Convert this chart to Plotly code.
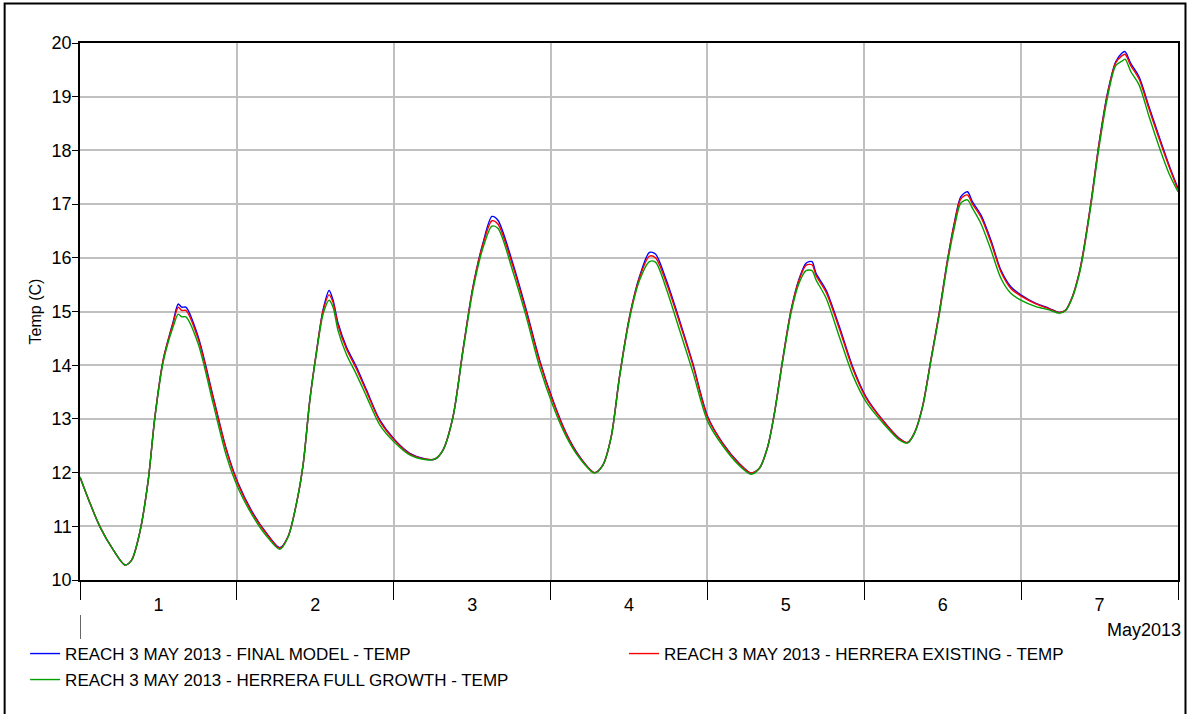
import plotly.graph_objects as go

# Hours since 1 May 2013 00:00
hours = [0, 1.53, 3.06, 5.09, 6.88, 7.90, 9.17, 10.44, 11.46, 12.73,
         14.26, 15.03, 15.55, 16.20, 18.08, 20.38, 22.43, 24.20, 26.49, 28.54,
         30.57, 31.84, 33.13, 34.14, 35.16, 36.18, 37.19, 38.11, 38.72, 39.49,
         40.77, 42.29, 43.83, 45.86, 48.15, 50.45, 53.0, 54.27, 55.54, 57.07,
         58.59, 60.12, 61.65, 63.03, 63.94, 66.24, 68.28, 70.32, 72.35, 74.40,
         76.43, 78.73, 80.0, 81.28, 82.55, 84.08, 85.61, 87.13, 88.05, 89.69,
         91.72, 93.75, 96.05, 98.34, 100.89, 102.68, 103.95, 105.22, 106.24, 107.51,
         108.80, 110.06, 111.09, 112.0, 112.62, 114.15, 116.18, 118.22, 120.26, 122.80,
         125.35, 126.62, 127.64, 128.91, 130.19, 131.46, 132.73, 133.76, 134.78, 135.79,
         136.56, 137.84, 139.37, 140.90, 142.42, 143.95, 146.25, 148.28, 149.81, 150.83,
         151.85, 152.87, 153.38, 154.66, 155.92, 157.20, 158.47, 159.39, 159.90, 160.77,
         162.04, 163.57, 165.10, 166.62, 168.0]

final_model = [11.92, 11.43, 10.99, 10.56, 10.28, 10.37, 10.90, 11.86, 13.04, 14.10,
               14.81, 15.14, 15.08, 15.08, 14.53, 13.41, 12.42, 11.80, 11.24, 10.87,
               10.60, 10.81, 11.43, 12.15, 13.35, 14.25, 15.03, 15.39, 15.21, 14.78,
               14.34, 13.97, 13.54, 12.98, 12.61, 12.36, 12.25, 12.25, 12.42, 13.04,
               14.28, 15.46, 16.27, 16.77, 16.70, 15.89, 15.03, 14.10, 13.35, 12.73,
               12.30, 12.00, 12.14, 12.67, 13.79, 14.90, 15.65, 16.10, 16.07, 15.59,
               14.84, 14.04, 13.04, 12.55, 12.17, 11.99, 12.08, 12.48, 13.10, 14.10,
               15.03, 15.62, 15.90, 15.93, 15.71, 15.40, 14.72, 13.97, 13.41, 12.98,
               12.64, 12.56, 12.73, 13.23, 14.10, 14.97, 15.96, 16.64, 17.14, 17.23,
               17.04, 16.80, 16.33, 15.77, 15.46, 15.31, 15.15, 15.06, 14.98, 15.03,
               15.28, 15.71, 16.02, 17.01, 18.13, 19.06, 19.65, 19.81, 19.84, 19.62,
               19.37, 18.81, 18.26, 17.73, 17.29]

herrera_existing = [11.92, 11.43, 10.99, 10.56, 10.28, 10.37, 10.90, 11.86, 13.04, 14.10,
                    14.79, 15.08, 15.02, 15.02, 14.49, 13.38, 12.40, 11.78, 11.22, 10.86,
                    10.59, 10.81, 11.43, 12.15, 13.35, 14.25, 15.01, 15.31, 15.17, 14.74,
                    14.30, 13.93, 13.51, 12.96, 12.60, 12.35, 12.25, 12.25, 12.42, 13.04,
                    14.28, 15.45, 16.25, 16.69, 16.63, 15.84, 14.99, 14.07, 13.33, 12.72,
                    12.29, 12.00, 12.14, 12.67, 13.79, 14.90, 15.63, 16.03, 16.00, 15.54,
                    14.80, 14.01, 13.02, 12.54, 12.16, 11.99, 12.08, 12.48, 13.10, 14.10,
                    15.02, 15.60, 15.86, 15.87, 15.67, 15.36, 14.68, 13.94, 13.39, 12.97,
                    12.63, 12.56, 12.73, 13.23, 14.10, 14.97, 15.95, 16.62, 17.10, 17.17,
                    17.00, 16.76, 16.29, 15.74, 15.43, 15.29, 15.14, 15.05, 14.98, 15.03,
                    15.28, 15.71, 16.02, 17.01, 18.12, 19.04, 19.63, 19.76, 19.79, 19.58,
                    19.33, 18.77, 18.22, 17.70, 17.27]

herrera_full_growth = [11.92, 11.43, 10.99, 10.56, 10.28, 10.37, 10.90, 11.86, 13.02, 14.06,
                       14.72, 14.95, 14.90, 14.90, 14.40, 13.28, 12.30, 11.71, 11.18, 10.82,
                       10.57, 10.80, 11.43, 12.15, 13.33, 14.22, 14.95, 15.21, 15.08, 14.64,
                       14.20, 13.83, 13.42, 12.89, 12.56, 12.33, 12.24, 12.25, 12.42, 13.03,
                       14.25, 15.40, 16.18, 16.59, 16.55, 15.74, 14.90, 13.97, 13.25, 12.67,
                       12.27, 11.99, 12.14, 12.66, 13.77, 14.86, 15.58, 15.93, 15.92, 15.43,
                       14.66, 13.88, 12.95, 12.50, 12.13, 11.97, 12.08, 12.48, 13.09, 14.07,
                       14.98, 15.54, 15.76, 15.76, 15.59, 15.25, 14.53, 13.82, 13.32, 12.93,
                       12.61, 12.55, 12.72, 13.21, 14.07, 14.93, 15.90, 16.55, 17.02, 17.08,
                       16.92, 16.64, 16.15, 15.62, 15.34, 15.21, 15.09, 15.03, 14.97, 15.02,
                       15.26, 15.68, 15.98, 16.96, 18.06, 18.98, 19.58, 19.66, 19.70, 19.47,
                       19.22, 18.63, 18.07, 17.57, 17.23]

names = ["REACH 3 MAY 2013 - FINAL MODEL - TEMP",
         "REACH 3 MAY 2013 - HERRERA EXISTING - TEMP",
         "REACH 3 MAY 2013 - HERRERA FULL GROWTH - TEMP"]
colors = ["#0000ff", "#ff0000", "#00a000"]
legends = ["legend", "legend2", "legend3"]

day_label_pos = [12, 36, 60, 84, 108, 132, 156]
day_labels = ["1", "2", "3", "4", "5", "6", "7"]

FONT = "Arial, Liberation Sans, sans-serif"

fig = go.Figure()
for ys, nm, c, lg in zip([final_model, herrera_existing, herrera_full_growth], names, colors, legends):
    fig.add_trace(go.Scatter(x=hours, y=ys, mode="lines", name=nm, legend=lg, showlegend=True,
                             line=dict(color=c, width=1.4, shape="spline", smoothing=0.8)))

W, H = 1191, 714
L, R, T, B = 80, 11, 43, 134
pw, ph = W - L - R, H - T - B

def px_x(p):
    return (p - L) / pw

def px_y(p):
    return (H - B - p) / ph

legfont = dict(family=FONT, size=17, color="black")
fig.update_layout(
    width=W, height=H,
    margin=dict(l=L, r=R, t=T, b=B),
    paper_bgcolor="white", plot_bgcolor="white",
    font=dict(family=FONT, color="black"),
    showlegend=True,
    legend=dict(x=px_x(25), y=px_y(654), xanchor="left", yanchor="middle",
                font=legfont, bgcolor="rgba(0,0,0,0)", itemwidth=30, visible=True),
    legend2=dict(x=px_x(625), y=px_y(654), xanchor="left", yanchor="middle",
                 font=legfont, bgcolor="rgba(0,0,0,0)", itemwidth=30),
    legend3=dict(x=px_x(25), y=px_y(680), xanchor="left", yanchor="middle",
                 font=legfont, bgcolor="rgba(0,0,0,0)", itemwidth=30),
    xaxis=dict(range=[0, 168], tickvals=day_label_pos, ticktext=day_labels,
               ticks="", showgrid=False, zeroline=False,
               tickfont=dict(family=FONT, size=18, color="black"),
               ticklabelstandoff=8,
               showline=True, linecolor="black", linewidth=1.5, mirror=True,
               minor=dict(tick0=0, dtick=24, ticks="outside", ticklen=18,
                          tickcolor="black", tickwidth=1.2,
                          showgrid=True, gridcolor="#c0c0c0", gridwidth=2)),
    yaxis=dict(range=[10, 20], dtick=1, ticks="outside", ticklen=6,
               tickcolor="black", tickwidth=1.2,
               tickfont=dict(family=FONT, size=18, color="black"),
               ticklabelstandoff=-3,
               showgrid=True, gridcolor="#c0c0c0", gridwidth=2, zeroline=False,
               showline=True, linecolor="black", linewidth=1.5, mirror=True,
               title=dict(text="Temp (C)", font=dict(family=FONT, size=16, color="black"),
                          standoff=6)),
    annotations=[dict(text="May2013", xref="paper", yref="paper",
                      x=px_x(1185), y=px_y(630), xanchor="right", yanchor="middle",
                      showarrow=False, font=dict(family=FONT, size=18, color="black"))],
    shapes=[
        dict(type="line", xref="x", yref="paper", x0=0, x1=0,
             y0=px_y(615), y1=px_y(639), line=dict(color="black", width=1.2)),
        dict(type="rect", xref="paper", yref="paper",
             x0=px_x(4.5), x1=px_x(1187.5), y0=px_y(730), y1=px_y(3.5),
             line=dict(color="black", width=2), fillcolor="rgba(0,0,0,0)", layer="above"),
    ],
)

fig.write_html("out.html", config={"displayModeBar": False},
               post_script="document.body.style.margin='0';")
